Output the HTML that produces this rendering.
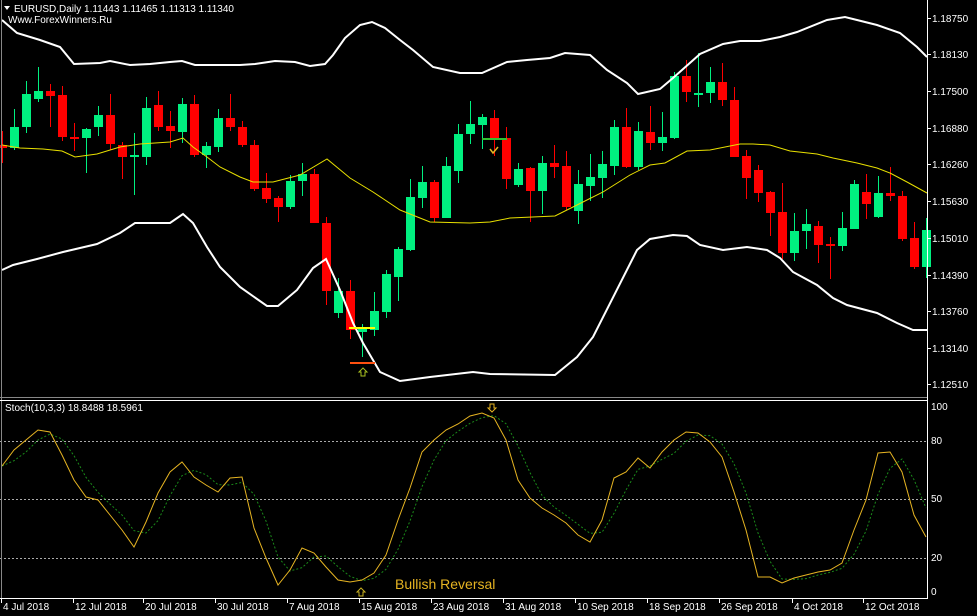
<!DOCTYPE html>
<html><head><meta charset="utf-8"><style>
html,body{margin:0;padding:0;background:#000;}
svg{display:block;font-family:"Liberation Sans",sans-serif;}
</style></head><body>
<svg id="s" width="977" height="616" viewBox="0 0 977 616" xmlns="http://www.w3.org/2000/svg">
<rect width="977" height="616" fill="#000"/>
<g id="g"></g>
<!-- frames -->
<line x1="1.5" y1="0" x2="1.5" y2="598" stroke="#888" stroke-width="1"/>
<line x1="0" y1="397.5" x2="928" y2="397.5" stroke="#888"/>
<line x1="0" y1="400.5" x2="928" y2="400.5" stroke="#fff"/>
<line x1="927.5" y1="0" x2="927.5" y2="599" stroke="#fff"/>
<line x1="0" y1="598.5" x2="928" y2="598.5" stroke="#fff"/>
<g fill="#fff" font-size="10">
<text x="14" y="12">EURUSD,Daily  1.11443 1.11465 1.11313 1.11340</text>
<text x="8" y="23">Www.ForexWinners.Ru</text>
<text x="5" y="411">Stoch(10,3,3) 18.8488 18.5961</text>
</g>
<polygon points="4,6 10,6 7,10" fill="#fff"/>
<g id="ax" fill="#fff" font-size="10"></g>
<text x="395" y="589" fill="#e6b422" font-size="14">Bullish Reversal</text>
</svg>
<script>
var NS="http://www.w3.org/2000/svg",g=document.getElementById('g'),ax=document.getElementById('ax');
function el(t,a,p){var e=document.createElementNS(NS,t);for(var k in a)e.setAttribute(k,a[k]);(p||g).appendChild(e);return e;}
function pl(pts,c,w,d){el('polyline',{points:pts.map(function(p){return p.join(',')}).join(' '),fill:'none',stroke:c,'stroke-width':w,'stroke-dasharray':d||'none'});}
// stoch levels
[[441,'80'],[499,'50'],[558,'20']].forEach(function(l){el('line',{x1:0,y1:l[0]+.5,x2:927,y2:l[0]+.5,stroke:'#aaa','stroke-dasharray':'2,2'});});
// candles: open,close,high,low in px (open=bottom for green)
var C=[[145,148,131,163],[148,127,109,150],[127,94,81,133],[99,91,67,102],[91,96,84,127],[95,137,86,141],[137,139,123,151],[138,129,128,173],[127,115,106,136],[115,144,94,150],[145,157,142,179],[157,155,133,195],[157,108,97,165],[105,127,91,131],[126,131,111,148],[132,104,98,143],[104,155,95,157],[155,146,142,168],[147,118,109,152],[118,127,94,131],[127,145,121,147],[145,189,140,191],[188,199,173,203],[198,207,196,222],[207,181,175,209],[181,174,163,196],[174,223,169,223],[223,291,217,305],[313,291,278,318],[291,330,280,339],[332,328,324,357],[330,311,292,336],[312,274,270,318],[277,249,247,301],[250,197,179,251],[198,182,166,208],[182,218,180,222],[218,166,157,218],[171,134,124,183],[134,124,101,144],[125,117,114,149],[118,138,110,156],[138,179,127,189],[185,169,163,187],[168,191,167,222],[191,163,156,214],[163,167,145,178],[166,207,151,210],[211,184,170,224],[186,177,154,201],[178,164,151,198],[166,127,120,175],[127,167,108,168],[167,131,122,170],[132,143,106,150],[143,137,112,151],[138,76,72,139],[76,92,60,102],[95,93,53,107],[93,82,67,103],[82,100,63,106],[100,157,87,157],[156,178,150,199],[170,193,165,202],[192,213,191,236],[212,253,183,259],[253,231,213,261],[231,224,209,249],[226,245,221,263],[244,246,237,279],[246,228,212,251],[229,184,180,229],[192,204,174,219],[217,193,176,218],[193,196,167,201],[196,239,191,241],[238,267,222,269],[267,230,218,278]];
C.forEach(function(c,k){var x=2+12*k,up=c[1]<c[0],col=up?'#00f080':'#ff0000';
el('line',{x1:x+.5,y1:c[2],x2:x+.5,y2:c[3],stroke:col,'stroke-width':1});
var t=Math.min(c[0],c[1]),b=Math.max(c[0],c[1]);if(b-t<2)b=t+2;
el('rect',{x:x-4,y:t,width:9,height:b-t,fill:col});});
// bands
pl([[2,20],[17,33],[40,40],[60,47],[74,64],[100,63],[110,61],[130,65],[150,64],[170,62],[182,61],[195,65],[240,65],[255,64],[275,61],[295,62],[310,66],[325,64],[333,55],[345,38],[360,25],[372,22],[385,28],[400,40],[413,50],[433,67],[460,73],[482,73],[507,62],[527,60],[550,58],[565,53],[590,55],[607,70],[627,83],[638,94],[660,89],[673,78],[700,54],[723,44],[740,41],[760,41],[780,37],[797,32],[827,20],[845,17],[857,20],[877,25],[900,33],[917,47],[927,57]],'#fff',2);
pl([[2,145],[20,148],[43,149],[62,151],[75,157],[97,154],[120,147],[140,144],[170,142],[183,138],[193,147],[207,157],[220,167],[240,177],[253,182],[273,182],[300,175],[327,159],[350,178],[373,192],[400,210],[430,222],[470,223],[490,222],[510,218],[555,216],[577,205],[603,192],[630,175],[650,165],[665,163],[687,151],[710,150],[740,144],[753,144],[770,145],[790,151],[817,154],[833,158],[857,163],[877,168],[890,173],[907,182],[927,193]],'#e8e000',1);
pl([[2,270],[13,265],[37,259],[63,252],[97,244],[120,233],[135,223],[170,223],[183,214],[193,223],[207,247],[220,267],[240,287],[267,306],[278,306],[297,290],[313,268],[326,259],[340,290],[353,323],[363,343],[380,372],[400,381],[430,377],[473,372],[490,374],[555,375],[577,357],[593,337],[637,250],[650,239],[673,235],[687,236],[700,245],[723,250],[747,247],[767,250],[780,258],[793,272],[817,285],[833,298],[847,305],[877,313],[897,323],[913,330],[927,330]],'#fff',2);
// annotations
el('line',{x1:349,y1:328,x2:375,y2:328,stroke:'#ffff00','stroke-width':2});
el('line',{x1:350,y1:363,x2:375,y2:363,stroke:'#ff5010','stroke-width':2});
el('line',{x1:482,y1:139,x2:507,y2:139,stroke:'#30c030','stroke-width':2});
el('polyline',{points:'490,149 493,153 498,147',fill:'none',stroke:'#e6b422','stroke-width':1.5});
el('polygon',{points:'363,368 359,372 361,372 361,376 365,376 365,372 367,372',fill:'none',stroke:'#a8c020'});
el('polygon',{points:'361,588 357,592 359,592 359,596 363,596 363,592 365,592',fill:'none',stroke:'#c8b020'});
el('polygon',{points:'492,412 488,408 490,408 490,404 494,404 494,408 496,408',fill:'none',stroke:'#e6b422'});
// stoch
var S=[466,450,440,430,432,455,480,497,500,515,530,547,522,493,472,462,477,485,492,478,477,528,558,585,570,548,553,567,580,582,580,573,555,520,488,452,440,430,424,416,413,418,440,480,498,508,515,523,535,542,520,478,472,458,468,452,440,432,433,442,457,492,530,577,577,583,578,575,572,570,563,530,500,453,452,472,515,537];
var sig=S.map(function(v,i){var a=S[Math.max(0,i-2)],b=S[Math.max(0,i-1)];return [2+12*i,(a+b+v)/3];});
pl(sig,'#1a8a1a',1,'2,2');
pl(S.map(function(v,i){return [2+12*i,v]}),'#e6b422',1);
// price axis
[['1.18750',18],['1.18130',54],['1.17500',91],['1.16880',128],['1.16260',164],['1.15630',201],['1.15010',238],['1.14390',275],['1.13760',311],['1.13140',348],['1.12510',384]].forEach(function(l){
el('line',{x1:928,y1:l[1]+.5,x2:931,y2:l[1]+.5,stroke:'#fff'},ax);var t=el('text',{x:932,y:l[1]+4},ax);t.textContent=l[0];});
[['100',410],['80',444],['50',502],['20',561],['0',595]].forEach(function(l){var t=el('text',{x:931,y:l[1]},ax);t.textContent=l[0];});
[['4 Jul 2018',3],['12 Jul 2018',75],['20 Jul 2018',145],['30 Jul 2018',217],['7 Aug 2018',289],['15 Aug 2018',361],['23 Aug 2018',433],['31 Aug 2018',505],['10 Sep 2018',577],['18 Sep 2018',649],['26 Sep 2018',721],['4 Oct 2018',794],['12 Oct 2018',865]].forEach(function(l){
el('line',{x1:l[1]-1.5,y1:599,x2:l[1]-1.5,y2:603,stroke:'#fff'},ax);var t=el('text',{x:l[1],y:610},ax);t.textContent=l[0];});
</script>
</body></html>
